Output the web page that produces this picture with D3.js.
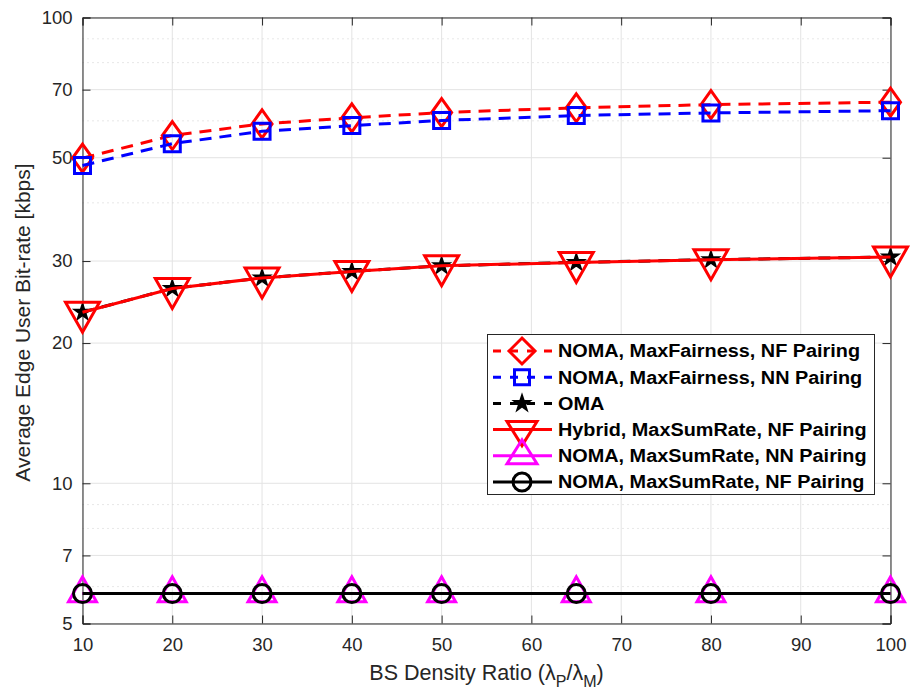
<!DOCTYPE html>
<html>
<head>
<meta charset="utf-8">
<script src="https://cdn.jsdelivr.net/npm/d3@7"></script>
<style>
  html, body { margin: 0; padding: 0; background: #fff; }
  svg { display: block; }
  text { font-family: "Liberation Sans", Arial, Helvetica, sans-serif; }
</style>
</head>
<body>
<svg id="chart" width="911" height="695"></svg>
<script>
// BS density ratio values (x) and the average edge-user bit-rate per scheme (kbps)
const densityRatio = [10, 20, 30, 40, 50, 65, 80, 100];
const nomaMaxFairNF = [49.9, 55.8, 59.1, 60.9, 62.5, 64.0, 65.0, 65.8];
const nomaMaxFairNN = [48.1, 53.6, 57.0, 58.6, 60.1, 61.6, 62.4, 63.1];
const omaRate       = [23.3, 26.2, 27.6, 28.5, 29.3, 29.8, 30.2, 30.6];
const hybridMaxSumNF = [23.3, 26.2, 27.6, 28.5, 29.3, 29.8, 30.2, 30.6];
const nomaMaxSumNN  = [5.8, 5.8, 5.8, 5.8, 5.8, 5.8, 5.8, 5.8];
const nomaMaxSumNF  = [5.8, 5.8, 5.8, 5.8, 5.8, 5.8, 5.8, 5.8];

const seriesNames = [
  "NOMA, MaxFairness, NF Pairing",
  "NOMA, MaxFairness, NN Pairing",
  "OMA",
  "Hybrid, MaxSumRate, NF Pairing",
  "NOMA, MaxSumRate, NN Pairing",
  "NOMA, MaxSumRate, NF Pairing"
];

const xTicks = [10, 20, 30, 40, 50, 60, 70, 80, 90, 100];
const yTicks = [5, 7, 10, 20, 30, 50, 70, 100];
const yMinorGrid = [6, 8, 9, 40, 60, 80, 90];

const svg = d3.select("#chart");
const pLeft = 82.5, pRight = 890.5, pTop = 17.5, pBottom = 623.5;

const x = d3.scaleLinear().domain([10, 100]).range([pLeft, pRight]);
const y = d3.scaleLog().domain([5, 100]).range([pBottom, pTop]);

const textColor = "#262626";

// grid
const grid = svg.append("g");
grid.selectAll("line.vx").data(xTicks).join("line")
  .attr("x1", d => x(d)).attr("x2", d => x(d))
  .attr("y1", pTop).attr("y2", pBottom)
  .attr("stroke", "#e3e3e3").attr("stroke-width", 1);
grid.selectAll("line.hy").data(yTicks).join("line")
  .attr("x1", pLeft).attr("x2", pRight)
  .attr("y1", d => y(d)).attr("y2", d => y(d))
  .attr("stroke", "#e3e3e3").attr("stroke-width", 1);
grid.selectAll("line.my").data(yMinorGrid).join("line")
  .attr("x1", pLeft).attr("x2", pRight)
  .attr("y1", d => y(d)).attr("y2", d => y(d))
  .attr("stroke", "#cfcfcf").attr("stroke-width", 1)
  .attr("stroke-dasharray", "1,4");

// axes (ticks pointing inward on all four sides)
const tickLen = 8;
const axB = svg.append("g").attr("transform", `translate(0,${pBottom})`)
  .call(d3.axisBottom(x).tickValues(xTicks).tickSize(-tickLen).tickPadding(14).tickFormat(d3.format("d")));
const axT = svg.append("g").attr("transform", `translate(0,${pTop})`)
  .call(d3.axisTop(x).tickValues(xTicks).tickSize(-tickLen).tickFormat(""));
const axL = svg.append("g").attr("transform", `translate(${pLeft},0)`)
  .call(d3.axisLeft(y).tickValues(yTicks).tickSize(-tickLen).tickPadding(10).tickFormat(d3.format("d")));
const axR = svg.append("g").attr("transform", `translate(${pRight},0)`)
  .call(d3.axisRight(y).tickValues(yTicks).tickSize(-tickLen).tickFormat(""));
[axB, axT, axL, axR].forEach(a => {
  a.select(".domain").attr("stroke", textColor).attr("stroke-width", 1);
  a.selectAll(".tick line").attr("stroke", textColor);
  a.selectAll(".tick text").attr("fill", textColor).attr("font-size", 18.5)
    .attr("font-family", "'Liberation Sans', Arial, sans-serif");
});
axB.selectAll(".tick text").attr("dy", "0.71em");

// axis titles
svg.append("text")
  .attr("transform", `translate(30,${(pTop + pBottom) / 2 + 2}) rotate(-90)`)
  .attr("text-anchor", "middle").attr("fill", textColor).attr("font-size", 21)
  .text("Average Edge User Bit-rate [kbps]");

const xl = svg.append("text")
  .attr("x", (pLeft + pRight) / 2).attr("y", 680)
  .attr("text-anchor", "middle").attr("fill", textColor).attr("font-size", 21.5);
xl.append("tspan").text("BS Density Ratio (\u03BB");
xl.append("tspan").attr("font-size", 16).attr("dy", 7).text("P");
xl.append("tspan").attr("dy", -7).text("/\u03BB");
xl.append("tspan").attr("font-size", 16).attr("dy", 7).text("M");
xl.append("tspan").attr("dy", -7).text(")");

// marker shapes
function diamondPath(w, h) { return `M0,${-h}L${w},0L0,${h}L${-w},0Z`; }
function squarePath(s) { return `M${-s},${-s}H${s}V${s}H${-s}Z`; }
function triDownPath(w, h) { return `M${-w},${-h / 3}H${w}L0,${2 * h / 3}Z`; }
function triUpPath(w, h) { return `M${-w},${h / 3}H${w}L0,${-2 * h / 3}Z`; }
const starPath = d3.symbol(d3.symbolStar, 72)();
const circlePath = d3.symbol(d3.symbolCircle, 254)();

const series = [
  { name: seriesNames[0], values: nomaMaxFairNF, color: "#ff0000", dash: "12,8",
    marker: diamondPath(10, 14), legendMarker: diamondPath(13, 13), fill: "none", sw: 3 },
  { name: seriesNames[1], values: nomaMaxFairNN, color: "#0000ff", dash: "12,8",
    marker: squarePath(8), legendMarker: squarePath(7.5), fill: "none", sw: 3 },
  { name: seriesNames[2], values: omaRate, color: "#000000", dash: "12,8",
    marker: starPath, legendMarker: starPath, fill: "#000000", sw: 2 },
  { name: seriesNames[3], values: hybridMaxSumNF, color: "#ff0000", dash: null,
    marker: triDownPath(17, 30), legendMarker: triDownPath(15, 24), fill: "none", sw: 3 },
  { name: seriesNames[4], values: nomaMaxSumNN, color: "#ff00ff", dash: null,
    marker: triUpPath(14, 25), legendMarker: triUpPath(15, 24), fill: "none", sw: 3 },
  { name: seriesNames[5], values: nomaMaxSumNF, color: "#000000", dash: null,
    marker: circlePath, legendMarker: circlePath, fill: "none", sw: 3 }
];

const line = d3.line().x((d, i) => x(densityRatio[i])).y(d => y(d));
const plot = svg.append("g");
series.forEach(s => {
  const g = plot.append("g");
  g.append("path").datum(s.values)
    .attr("d", line).attr("fill", "none")
    .attr("stroke", s.color).attr("stroke-width", 3)
    .attr("stroke-dasharray", s.dash);
  g.selectAll("path.mk").data(s.values).join("path")
    .attr("class", "mk")
    .attr("transform", (d, i) => `translate(${x(densityRatio[i])},${y(d)})`)
    .attr("d", s.marker)
    .attr("fill", s.fill)
    .attr("stroke", s.color).attr("stroke-width", s.sw)
    .attr("stroke-linejoin", "miter");
});

// legend
const lg = svg.append("g");
const lgX = 487.5, lgY = 334.5, lgW = 387, lgH = 160;
lg.append("rect").attr("x", lgX).attr("y", lgY).attr("width", lgW).attr("height", lgH)
  .attr("fill", "#fff").attr("stroke", textColor).attr("stroke-width", 1);
const rowY = d3.scaleLinear().domain([0, series.length - 1]).range([351, 482]);
const labels = [];
series.forEach((s, i) => {
  const cy = rowY(i);
  lg.append("line").attr("x1", 493).attr("x2", 552).attr("y1", cy).attr("y2", cy)
    .attr("stroke", s.color).attr("stroke-width", 3)
    .attr("stroke-dasharray", s.dash ? "8,9" : null);
  lg.append("path").attr("transform", `translate(522,${cy})`).attr("d", s.legendMarker)
    .attr("fill", s.fill).attr("stroke", s.color).attr("stroke-width", s.sw);
  labels.push(lg.append("text").attr("x", 558).attr("y", cy).attr("dy", "0.36em")
    .attr("font-size", 18).attr("font-weight", "bold").attr("fill", "#000")
    .text(s.name));
});
// widen the legend glyphs slightly so the longest entry fills the box
const baseW = labels[0].node().getComputedTextLength();
const stretch = 302 / baseW;
labels.forEach(t => {
  const w = t.node().getComputedTextLength();
  t.attr("textLength", w * stretch).attr("lengthAdjust", "spacingAndGlyphs");
});
</script>
</body>
</html>
